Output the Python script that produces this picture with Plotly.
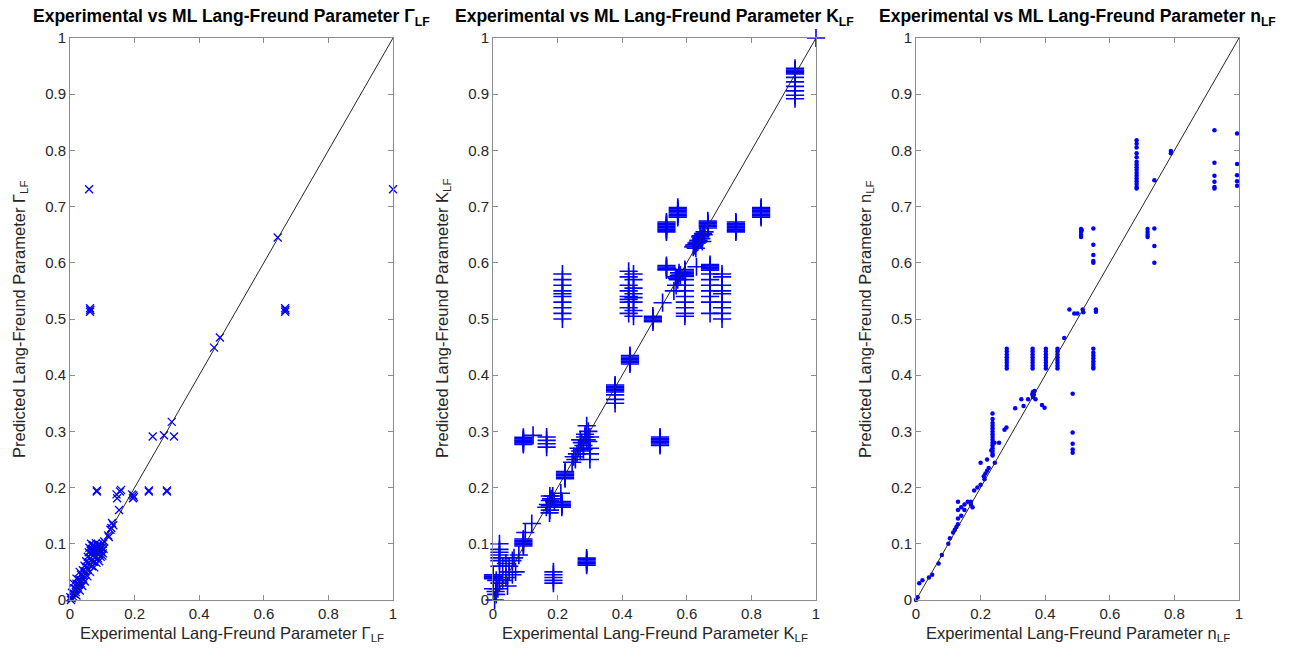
import plotly.graph_objects as go

# ---------------- data ----------------
# Panel 1: Gamma_LF (experimental, predicted)
gamma_exp = [0.059, 1.0,
             0.062, 0.063, 0.062, 0.666, 0.667, 0.666,
             0.643, 0.446, 0.464,
             0.256, 0.291, 0.322, 0.315,
             0.083, 0.083, 0.155, 0.158, 0.144, 0.146, 0.192, 0.196, 0.198, 0.195, 0.244, 0.244, 0.300, 0.300,
             0.152, 0.134, 0.128, 0.125, 0.130, 0.118, 0.120,
             0.065, 0.072, 0.080, 0.088, 0.095, 0.102, 0.106,
             0.060, 0.068, 0.076, 0.084, 0.092, 0.099, 0.104,
             0.058, 0.066, 0.074, 0.082, 0.090, 0.097, 0.102,
             0.055, 0.063, 0.071, 0.079, 0.087, 0.095, 0.100,
             0.050, 0.058, 0.066, 0.074, 0.082, 0.090,
             0.045, 0.052, 0.060, 0.068, 0.075,
             0.040, 0.047, 0.055, 0.062,
             0.034, 0.041, 0.048, 0.054,
             0.027, 0.034, 0.041, 0.046,
             0.020, 0.027, 0.033, 0.038,
             0.013, 0.019, 0.025, 0.030,
             0.006, 0.012, 0.018, 0.020,
             0.001, 0.005, 0.010, 0.003,
             0.010, 0.030, 0.020,
             0.070, 0.078, 0.086, 0.094, 0.064, 0.072, 0.080, 0.088, 0.096]
gamma_pred = [0.731, 0.731,
              0.519, 0.516, 0.513, 0.519, 0.516, 0.513,
              0.645, 0.449, 0.467,
              0.291, 0.293, 0.291, 0.317,
              0.193, 0.195, 0.193, 0.196, 0.188, 0.181, 0.188, 0.186, 0.183, 0.181, 0.193, 0.195, 0.193, 0.195,
              0.160, 0.133, 0.128, 0.125, 0.137, 0.115, 0.112,
              0.100, 0.098, 0.101, 0.099, 0.097, 0.100, 0.104,
              0.093, 0.091, 0.094, 0.092, 0.090, 0.093, 0.091,
              0.085, 0.083, 0.086, 0.084, 0.082, 0.085, 0.083,
              0.077, 0.075, 0.078, 0.076, 0.074, 0.077, 0.079,
              0.069, 0.067, 0.070, 0.068, 0.066, 0.069,
              0.061, 0.059, 0.062, 0.060, 0.058,
              0.053, 0.051, 0.054, 0.050,
              0.045, 0.043, 0.046, 0.042,
              0.037, 0.035, 0.038, 0.033,
              0.029, 0.027, 0.030, 0.025,
              0.021, 0.019, 0.022, 0.017,
              0.013, 0.011, 0.014, 0.008,
              0.005, 0.003, 0.006, 0.000,
              0.030, 0.050, 0.038,
              0.096, 0.095, 0.096, 0.094, 0.088, 0.087, 0.089, 0.088, 0.087]

# Panel 2: K_LF
k_exp = [1.0,
         0.935, 0.935, 0.935, 0.935, 0.935, 0.935, 0.935, 0.935, 0.935, 0.935, 0.935,
         0.537, 0.537, 0.537, 0.537, 0.537, 0.537, 0.537, 0.537,
         0.572, 0.572, 0.572, 0.572, 0.572, 0.572, 0.572, 0.572,
         0.665, 0.665, 0.665, 0.665, 0.665, 0.665,
         0.752, 0.752, 0.752, 0.752, 0.752, 0.752, 0.752, 0.752,
         0.830, 0.830, 0.830, 0.830, 0.830, 0.830, 0.830, 0.830,
         0.620, 0.622, 0.624, 0.630, 0.634, 0.636, 0.641, 0.643, 0.645, 0.650, 0.655, 0.628, 0.648, 0.652,
         0.537, 0.537, 0.537, 0.537,
         0.594, 0.594, 0.594, 0.594, 0.594, 0.594, 0.594, 0.594, 0.594, 0.594, 0.594, 0.594, 0.594, 0.594,
         0.672, 0.672, 0.672, 0.672, 0.672, 0.672, 0.672, 0.672, 0.672, 0.672, 0.672, 0.672,
         0.709, 0.709, 0.709, 0.709, 0.709, 0.709, 0.709, 0.709, 0.709,
         0.215, 0.215, 0.215, 0.215, 0.215, 0.215, 0.215, 0.215, 0.215, 0.215,
         0.420, 0.420, 0.420, 0.420, 0.420, 0.420, 0.420, 0.420, 0.420,
         0.435, 0.435, 0.435, 0.435, 0.435, 0.435, 0.435, 0.435,
         0.630, 0.565, 0.572, 0.580, 0.567, 0.560, 0.576, 0.570, 0.575,
         0.525,
         0.495, 0.495, 0.495, 0.495, 0.495,
         0.424, 0.424, 0.424, 0.424, 0.424, 0.424, 0.424,
         0.378, 0.378, 0.378, 0.378, 0.378, 0.378, 0.378, 0.378, 0.378,
         0.094, 0.094, 0.094, 0.094, 0.094, 0.094,
         0.124,
         0.166, 0.166, 0.166, 0.166,
         0.255, 0.260, 0.265, 0.270, 0.275, 0.280, 0.285, 0.290, 0.295, 0.300, 0.290, 0.300, 0.300, 0.300, 0.245, 0.250, 0.270, 0.285, 0.295, 0.280,
         0.223, 0.223, 0.223, 0.223, 0.223, 0.223,
         0.176, 0.176, 0.176, 0.176, 0.165, 0.170, 0.180, 0.185, 0.190, 0.175,
         0.213, 0.213, 0.213, 0.213, 0.213, 0.210,
         0.120,
         0.094, 0.094, 0.094, 0.094, 0.094, 0.094, 0.100,
         0.020, 0.020, 0.020, 0.020, 0.020, 0.020,
         0.000, 0.000, 0.000, 0.000, 0.020, 0.030, 0.050, 0.040, 0.060, 0.010, 0.005, 0.015, 0.020, 0.030, 0.040, 0.050, 0.010, 0.000, 0.008, 0.070, 0.065, 0.080, 0.060, 0.045,
         0.187, 0.187, 0.187, 0.187, 0.187,
         0.290, 0.290, 0.290, 0.290, 0.290, 0.290,
         0.517, 0.517, 0.517, 0.517, 0.517, 0.517, 0.517]
k_pred = [1.0,
          0.946, 0.943, 0.941, 0.938, 0.936, 0.930, 0.922, 0.914, 0.906, 0.898, 0.892,
          0.655, 0.6575, 0.660, 0.6625, 0.665, 0.6675, 0.670, 0.6725,
          0.681, 0.6835, 0.686, 0.6885, 0.691, 0.6935, 0.696, 0.6985,
          0.662, 0.6645, 0.667, 0.6695, 0.672, 0.6745,
          0.655, 0.6575, 0.660, 0.6625, 0.665, 0.6675, 0.670, 0.6725,
          0.681, 0.6835, 0.686, 0.6885, 0.691, 0.6935, 0.696, 0.6985,
          0.628, 0.630, 0.632, 0.635, 0.637, 0.640, 0.646, 0.648, 0.643, 0.652, 0.655, 0.626, 0.638, 0.650,
          0.5875, 0.590, 0.5925, 0.595,
          0.588, 0.5855, 0.583, 0.5805, 0.578, 0.5755, 0.570, 0.560, 0.550, 0.540, 0.530, 0.520, 0.510, 0.505,
          0.597, 0.5945, 0.592, 0.5895, 0.587, 0.580, 0.570, 0.560, 0.550, 0.540, 0.530, 0.510,
          0.580, 0.575, 0.560, 0.550, 0.545, 0.530, 0.520, 0.510, 0.500,
          0.580, 0.570, 0.560, 0.550, 0.545, 0.540, 0.530, 0.520, 0.510, 0.500,
          0.585, 0.575, 0.560, 0.550, 0.540, 0.535, 0.530, 0.520, 0.510,
          0.580, 0.570, 0.555, 0.545, 0.538, 0.530, 0.515, 0.505,
          0.593, 0.575, 0.570, 0.578, 0.560, 0.550, 0.582, 0.5725, 0.5775,
          0.529,
          0.495, 0.4975, 0.500, 0.5025, 0.505,
          0.420, 0.4225, 0.425, 0.4275, 0.430, 0.4325, 0.435,
          0.370, 0.3725, 0.375, 0.3775, 0.380, 0.3825, 0.365, 0.357, 0.350,
          0.277, 0.2795, 0.282, 0.2845, 0.287, 0.2895,
          0.293,
          0.290, 0.284, 0.278, 0.272,
          0.250, 0.260, 0.270, 0.265, 0.280, 0.275, 0.290, 0.285, 0.300, 0.290, 0.310, 0.270, 0.260, 0.250, 0.245, 0.255, 0.285, 0.295, 0.282, 0.268,
          0.216, 0.2185, 0.221, 0.2235, 0.226, 0.2285,
          0.160, 0.168, 0.177, 0.185, 0.165, 0.170, 0.180, 0.185, 0.175, 0.155,
          0.165, 0.1675, 0.170, 0.1725, 0.175, 0.190,
          0.136,
          0.096, 0.0985, 0.101, 0.1035, 0.106, 0.1085, 0.120,
          0.100, 0.090, 0.085, 0.080, 0.075, 0.070,
          0.040, 0.0425, 0.045, 0.038, 0.060, 0.060, 0.050, 0.065, 0.070, 0.010, 0.000, 0.020, 0.030, 0.035, 0.040, 0.060, 0.035, 0.020, 0.015, 0.050, 0.075, 0.080, 0.045, 0.025,
          0.050, 0.045, 0.040, 0.035, 0.030,
          0.062, 0.0645, 0.067, 0.0695, 0.072, 0.0745,
          0.290, 0.2875, 0.285, 0.2825, 0.280, 0.2775, 0.275]

# Panel 3: n_LF
n_exp = [0.683, 0.683, 0.683, 0.683, 0.683, 0.683, 0.683, 0.683, 0.683, 0.683, 0.683, 0.683, 0.683, 0.683, 0.683, 0.683,
         0.789, 0.789, 0.738,
         0.924, 0.924, 0.924, 0.924, 0.924, 0.924,
         0.994, 0.994, 0.994, 0.994, 0.994,
         0.511, 0.511, 0.511, 0.511, 0.513,
         0.549, 0.549, 0.549, 0.549, 0.549,
         0.717, 0.717, 0.717, 0.717,
         0.738, 0.738, 0.738,
         0.475, 0.490, 0.500, 0.516, 0.518, 0.557, 0.557,
         0.281, 0.281, 0.281, 0.281, 0.281, 0.281, 0.281, 0.281,
         0.361, 0.361, 0.361, 0.361, 0.361, 0.361, 0.361, 0.361,
         0.402, 0.402, 0.402, 0.402, 0.402, 0.402, 0.402, 0.402,
         0.438, 0.438, 0.438, 0.438, 0.438, 0.438, 0.438, 0.438,
         0.549, 0.549, 0.549, 0.549, 0.549, 0.549, 0.549, 0.549,
         0.459,
         0.326, 0.347, 0.362, 0.362, 0.365, 0.370, 0.333, 0.307, 0.390, 0.398, 0.360, 0.367,
         0.485, 0.485, 0.485, 0.485, 0.485,
         0.237, 0.237, 0.237, 0.237, 0.237, 0.237, 0.237, 0.237, 0.237, 0.237, 0.237, 0.237, 0.237, 0.237, 0.237,
         0.200, 0.244, 0.243, 0.257, 0.233, 0.220, 0.274, 0.280,
         0.210, 0.215, 0.220, 0.225, 0.212,
         0.000, 0.005, 0.010, 0.020, 0.040, 0.050, 0.070, 0.080, 0.100, 0.105, 0.115, 0.120, 0.125, 0.130, 0.130, 0.130, 0.130,
         0.140, 0.140, 0.150, 0.150, 0.160, 0.170, 0.180, 0.190, 0.200, 0.170, 0.175]
n_pred = [0.818, 0.812, 0.805, 0.795, 0.788, 0.780, 0.775, 0.770, 0.765, 0.760, 0.755, 0.750, 0.745, 0.740, 0.735, 0.732,
          0.799, 0.795, 0.747,
          0.836, 0.778, 0.755, 0.744, 0.732, 0.735,
          0.830, 0.776, 0.756, 0.745, 0.737,
          0.660, 0.655, 0.650, 0.646, 0.658,
          0.661, 0.632, 0.614, 0.600, 0.603,
          0.660, 0.655, 0.650, 0.646,
          0.661, 0.630, 0.600,
          0.517, 0.510, 0.510, 0.517, 0.512, 0.517, 0.513,
          0.447, 0.442, 0.437, 0.432, 0.427, 0.422, 0.417, 0.412,
          0.447, 0.442, 0.437, 0.432, 0.427, 0.422, 0.417, 0.412,
          0.447, 0.442, 0.437, 0.432, 0.427, 0.422, 0.417, 0.412,
          0.447, 0.442, 0.437, 0.432, 0.427, 0.422, 0.417, 0.412,
          0.447, 0.440, 0.435, 0.430, 0.425, 0.420, 0.415, 0.412,
          0.466,
          0.357, 0.357, 0.361, 0.370, 0.365, 0.357, 0.345, 0.341, 0.347, 0.342, 0.366, 0.372,
          0.367, 0.298, 0.278, 0.268, 0.262,
          0.332, 0.322, 0.315, 0.310, 0.305, 0.300, 0.295, 0.290, 0.285, 0.280, 0.275, 0.270, 0.265, 0.260, 0.257,
          0.244, 0.244, 0.280, 0.280, 0.266, 0.250, 0.303, 0.307,
          0.220, 0.225, 0.230, 0.235, 0.215,
          0.000, 0.005, 0.030, 0.035, 0.040, 0.045, 0.065, 0.080, 0.100, 0.110, 0.120, 0.125, 0.130, 0.135, 0.145, 0.160, 0.175,
          0.150, 0.165, 0.160, 0.170, 0.175, 0.175, 0.195, 0.200, 0.205, 0.170, 0.165]

diag_line = [0, 1]
tick_x = [0, 0.2, 0.4, 0.6, 0.8, 1]
tick_x_text = ["0", "0.2", "0.4", "0.6", "0.8", "1"]
tick_y = [0, 0.1, 0.2, 0.3, 0.4, 0.5, 0.6, 0.7, 0.8, 0.9, 1]
tick_y_text = ["0", "0.1", "0.2", "0.3", "0.4", "0.5", "0.6", "0.7", "0.8", "0.9", "1"]

symbols = ["Γ", "K", "n"]

# ---------------- figure ----------------
W, H = 1293, 660
left_px = [70, 493, 916]
plot_w = 323
top_px, bot_px = 38, 600

fig = go.Figure()
FONT = "Liberation Sans, Arial, sans-serif"
BLUE = "#0000FF"

series = [(gamma_exp, gamma_pred, "x-thin", 8, 1.3),
          (k_exp, k_pred, "cross-thin", 13, 1.6),
          (n_exp, n_pred, "circle", 4.5, 0)]

for i, (xs, ys, sym, sz, lw) in enumerate(series):
    ax = "" if i == 0 else str(i + 1)
    marker = dict(symbol=sym, size=sz, color=BLUE)
    if lw:
        marker["line"] = dict(color=BLUE, width=lw)
    else:
        marker["line"] = dict(width=0)
    fig.add_trace(go.Scatter(x=xs, y=ys, mode="markers", marker=marker,
                             xaxis="x" + ax, yaxis="y" + ax, cliponaxis=False,
                             showlegend=False))
    fig.add_trace(go.Scatter(x=diag_line, y=diag_line, mode="lines",
                             line=dict(color="#262626", width=1),
                             xaxis="x" + ax, yaxis="y" + ax, showlegend=False))

axis_common = dict(range=[0, 1], showline=True, linecolor="#8c8c8c", linewidth=1,
                   mirror="ticks", ticks="inside", ticklen=5, tickcolor="#8c8c8c",
                   showgrid=False, zeroline=False, automargin=False,
                   tickfont=dict(family=FONT, size=15, color="#262626"))

layout = dict(width=W, height=H, margin=dict(l=0, r=0, t=0, b=0, autoexpand=False),
              paper_bgcolor="white", plot_bgcolor="white", showlegend=False)

y_dom = [(H - bot_px) / H, (H - top_px) / H]
annotations = []
for i in range(3):
    ax = "" if i == 0 else str(i + 1)
    x_dom = [left_px[i] / W, (left_px[i] + plot_w) / W]
    layout["xaxis" + ax] = dict(axis_common, domain=x_dom, anchor="y" + ax,
                                tickvals=tick_x, ticktext=tick_x_text)
    layout["yaxis" + ax] = dict(axis_common, domain=y_dom, anchor="x" + ax,
                                tickvals=tick_y, ticktext=tick_y_text)
    cx = (left_px[i] + plot_w / 2) / W
    s = symbols[i]
    annotations.append(dict(text=f"<b>Experimental vs ML Lang-Freund Parameter {s}<sub>LF</sub></b>",
                            x=cx, y=(H - 18) / H, xref="paper", yref="paper",
                            xanchor="center", yanchor="middle", showarrow=False,
                            font=dict(family=FONT, size=17.5, color="black")))
    annotations.append(dict(text=f"Experimental Lang-Freund Parameter {s}<sub>LF</sub>",
                            x=cx, y=(H - 634) / H, xref="paper", yref="paper",
                            xanchor="center", yanchor="middle", showarrow=False,
                            font=dict(family=FONT, size=16.5, color="#262626")))
    annotations.append(dict(text=f"Predicted Lang-Freund Parameter {s}<sub>LF</sub>",
                            x=(left_px[i] - 50) / W, y=(H - 319) / H, xref="paper", yref="paper",
                            xanchor="center", yanchor="middle", showarrow=False, textangle=-90,
                            font=dict(family=FONT, size=16.5, color="#262626")))
layout["annotations"] = annotations
fig.update_layout(**layout)

fig.write_html("out.html")
